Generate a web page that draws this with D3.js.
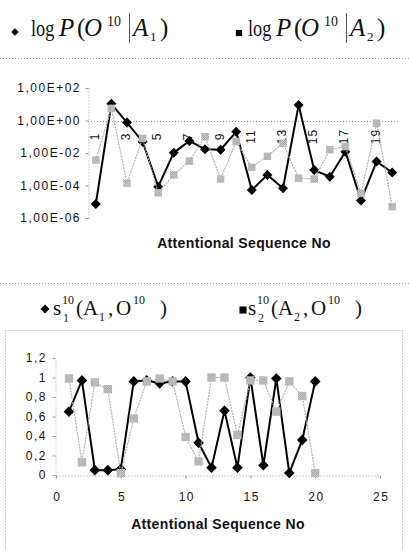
<!DOCTYPE html>
<html>
<head>
<meta charset="utf-8">
<script src="https://cdn.jsdelivr.net/npm/d3@7"></script>
<style>
  html, body { margin: 0; padding: 0; background: #fff; }
  svg { display: block; }
  .tick text { font-family: "Liberation Sans", Arial, sans-serif; font-size: 12px; letter-spacing: 1.5px; fill: #111; }
  .ttl { font-family: "Liberation Sans", Arial, sans-serif; font-size: 14px; font-weight: bold; letter-spacing: 0.35px; fill: #111; }
  .lg { font-family: "Liberation Serif", "Times New Roman", serif; fill: #111; }
</style>
</head>
<body>
<svg id="chart" width="409" height="550"></svg>
<script>
// Sequence numbers shared by both panels
const seqNo = [1, 2, 3, 4, 5, 6, 7, 8, 9, 10, 11, 12, 13, 14, 15, 16, 17, 18, 19, 20];

// Upper panel: P(O^10 | A1) and P(O^10 | A2), log scale
const logPA1 = [7.2e-6, 10.7, 0.74, 0.05, 8.5e-5, 0.0105, 0.055, 0.017, 0.016, 0.2,
                5.2e-5, 4.5e-4, 6.8e-5, 8.9, 8.9e-4, 3.5e-4, 0.012, 1.2e-5, 3.0e-3, 6.3e-4];
const logPA2 = [3.7e-3, 5.6, 1.4e-4, 0.079, 3.6e-5, 4.5e-4, 3.2e-3, 0.1, 2.5e-4, 0.05,
                1.3e-3, 6.3e-3, 0.04, 2.8e-4, 2.5e-4, 0.016, 0.025, 3.3e-5, 0.68, 5.0e-6];
const topTicks = [1e2, 1e0, 1e-2, 1e-4, 1e-6];
const topTickLabels = ["1,00E+02", "1,00E+00", "1,00E-02", "1,00E-04", "1,00E-06"];
const topCatLabels = [1, 3, 5, 7, 9, 11, 13, 15, 17, 19];

// Lower panel: s1^10(A1,O^10) and s2^10(A2,O^10)
const sA1 = [0.65, 0.97, 0.05, 0.05, 0.06, 0.96, 0.97, 0.94, 0.96, 0.96,
             0.33, 0.075, 0.66, 0.075, 1.0, 0.1, 0.99, 0.02, 0.36, 0.96];
const sA2 = [0.99, 0.13, 0.95, 0.88, 0.02, 0.58, 0.96, 0.99, 0.96, 0.39,
             0.14, 1.0, 1.0, 0.41, 0.97, 0.97, 0.65, 0.96, 0.81, 0.02];
const botYTicks = [0, 0.2, 0.4, 0.6, 0.8, 1, 1.2];
const botXTicks = [0, 5, 10, 15, 20, 25];

const axisTitle = "Attentional Sequence No";

const svg = d3.select("#chart");

// Stippled grey fill for the A2 markers
const defs = svg.append("defs");
const pat = defs.append("pattern").attr("id", "stip").attr("width", 2).attr("height", 2)
  .attr("patternUnits", "userSpaceOnUse");
pat.append("rect").attr("width", 2).attr("height", 2).attr("fill", "#d6d6d6");
pat.append("rect").attr("width", 1).attr("height", 1).attr("fill", "#9a9a9a");
pat.append("rect").attr("x", 1).attr("y", 1).attr("width", 1).attr("height", 1).attr("fill", "#9a9a9a");

const dotted = sel => sel.attr("stroke", "#9a9a9a").attr("stroke-width", 1).attr("stroke-dasharray", "1 2").attr("fill", "none");

const diamond = d3.symbol().type(d3.symbolDiamond2);
const square = d3.symbol().type(d3.symbolSquare2);

// ---------------- Upper panel ----------------
svg.append("line").attr("x1", 0).attr("x2", 409).attr("y1", 58.5).attr("y2", 58.5).call(dotted);
svg.append("line").attr("x1", 0).attr("x2", 409).attr("y1", 283.5).attr("y2", 283.5).call(dotted);

const xTop = d3.scaleBand().domain(seqNo).range([88, 400]);
const cx = d => xTop(d) + xTop.bandwidth() / 2;
const yTop = d3.scaleLog().domain([1e-6, 1e2]).range([218, 88]);

const gTopY = svg.append("g").attr("transform", "translate(88.5,0)")
  .call(d3.axisLeft(yTop).tickValues(topTicks)
    .tickFormat((d, i) => topTickLabels[i]).tickSize(3).tickPadding(6).tickSizeOuter(0));
gTopY.select(".domain").call(dotted);
gTopY.selectAll(".tick line").attr("stroke", "#9a9a9a");
gTopY.selectAll(".tick text").attr("dx", "1.5px");

// Category axis crossing at 1,00E+00
svg.append("line").attr("x1", 88).attr("x2", 400)
  .attr("y1", Math.round(yTop(1)) + 0.5).attr("y2", Math.round(yTop(1)) + 0.5).call(dotted);

svg.append("g").selectAll("text").data(topCatLabels).join("text")
  .attr("transform", d => `translate(${cx(d) - 1},${yTop(1) + 16}) rotate(-90)`)
  .attr("text-anchor", "middle").attr("dominant-baseline", "central")
  .style("font-family", "Liberation Sans, Arial, sans-serif").style("font-size", "12px")
  .style("letter-spacing", "1px").attr("fill", "#111")
  .text(d => d);

const lineTop = arr => d3.line().x((d, i) => cx(seqNo[i])).y(d => yTop(d))(arr);

svg.append("path").attr("d", lineTop(logPA1)).attr("fill", "none").attr("stroke", "#000").attr("stroke-width", 2);
svg.append("g").selectAll("path").data(logPA1).join("path")
  .attr("transform", (d, i) => `translate(${cx(seqNo[i])},${yTop(d)})`)
  .attr("d", diamond.size(64)).attr("fill", "#000");

svg.append("path").attr("d", lineTop(logPA2)).attr("fill", "none").attr("stroke", "#b0b0b0").attr("stroke-width", 1.2).attr("stroke-dasharray", "2 1");
svg.append("g").selectAll("path").data(logPA2).join("path")
  .attr("transform", (d, i) => `translate(${cx(seqNo[i])},${yTop(d)})`)
  .attr("d", square.size(72)).attr("fill", "url(#stip)");

svg.append("text").attr("class", "ttl").attr("x", (88 + 400) / 2).attr("y", 248)
  .attr("text-anchor", "middle").text(axisTitle);

// Upper legend: log P(O^10 | A_k)
function topLegend(x0, sub) {
  const g = svg.append("g").attr("transform", `translate(${x0},0)`);
  const t = (x, y, s, size, italic) => g.append("text").attr("class", "lg").attr("x", x).attr("y", y)
    .style("font-size", size + "px").style("font-style", italic ? "italic" : "normal").text(s);
  // narrow "log" operator
  g.append("text").attr("class", "lg").attr("transform", "translate(0,36) scale(0.76,1)")
    .style("font-size", "24px").text("log");
  t(28, 36, "P", 25, true);
  t(46, 36, "(", 25, false);
  t(53, 36, "O", 25, true);
  t(76, 26, "10", 14, false);
  g.append("line").attr("x1", 98.5).attr("x2", 98.5).attr("y1", 13).attr("y2", 43)
    .attr("stroke", "#555").attr("stroke-width", 1);
  t(102, 36, "A", 25, true);
  t(119, 41, sub, 13, false);
  t(129, 36, ")", 25, false);
  return g;
}
topLegend(31, "1");
topLegend(248, "2");
svg.append("path").attr("transform", "translate(15,32)").attr("d", diamond.size(36)).attr("fill", "#000");
svg.append("path").attr("transform", "translate(239,33)").attr("d", square.size(49)).attr("fill", "#000");

// ---------------- Lower panel ----------------
svg.append("rect").attr("x", 5.5).attr("y", 330.5).attr("width", 397).attr("height", 230).call(dotted);

const xBot = d3.scaleLinear().domain([0, 25]).range([56, 380]);
const yBot = d3.scaleLinear().domain([0, 1.2]).range([475, 358]);
const fmtComma = d => String(d).replace(".", ",");

const gBotY = svg.append("g").attr("transform", "translate(55.5,0)")
  .call(d3.axisLeft(yBot).tickValues(botYTicks).tickFormat(fmtComma).tickSize(3).tickPadding(7).tickSizeOuter(0));
gBotY.select(".domain").call(dotted);
gBotY.selectAll(".tick line").attr("stroke", "#9a9a9a");
gBotY.selectAll(".tick text").attr("dx", "1.5px");

const gBotX = svg.append("g").attr("transform", "translate(0,475.5)")
  .call(d3.axisBottom(xBot).tickValues(botXTicks).tickFormat(d => d).tickSize(3).tickPadding(14).tickSizeOuter(0));
gBotX.select(".domain").call(dotted);
gBotX.selectAll(".tick line").attr("stroke", "#9a9a9a");
gBotX.selectAll(".tick text").attr("dx", "0.75px");

const lineBot = arr => d3.line().x((d, i) => xBot(seqNo[i])).y(d => yBot(d))(arr);

svg.append("path").attr("d", lineBot(sA1)).attr("fill", "none").attr("stroke", "#000").attr("stroke-width", 2);
svg.append("g").selectAll("path").data(sA1).join("path")
  .attr("transform", (d, i) => `translate(${xBot(seqNo[i])},${yBot(d)})`)
  .attr("d", diamond.size(72)).attr("fill", "#000");

svg.append("path").attr("d", lineBot(sA2)).attr("fill", "none").attr("stroke", "#b0b0b0").attr("stroke-width", 1.2).attr("stroke-dasharray", "2 1");
svg.append("g").selectAll("path").data(sA2).join("path")
  .attr("transform", (d, i) => `translate(${xBot(seqNo[i])},${yBot(d)})`)
  .attr("d", square.size(90)).attr("fill", "url(#stip)");

svg.append("text").attr("class", "ttl").attr("x", (56 + 380) / 2).attr("y", 529)
  .attr("text-anchor", "middle").text(axisTitle);

// Lower legend: s_k^10(A_k, O^10)
function botLegend(x0, sub) {
  const g = svg.append("g").attr("transform", `translate(${x0},0)`);
  const t = (x, y, s, size) => g.append("text").attr("class", "lg").attr("x", x).attr("y", y)
    .style("font-size", size + "px").text(s);
  t(0, 315, "s", 21);
  t(9, 304, "10", 12);
  t(10, 322, sub, 12);
  t(23, 315, "(", 21);
  t(30, 315, "A", 21);
  t(46, 321, sub, 12);
  t(55, 315, ",", 21);
  t(63, 315, "O", 21);
  t(80, 304, "10", 12);
  t(107, 315, ")", 21);
  return g;
}
botLegend(53, "1");
botLegend(248, "2");
svg.append("path").attr("transform", "translate(45,309)").attr("d", diamond.size(50)).attr("fill", "#000");
svg.append("path").attr("transform", "translate(243,310)").attr("d", square.size(64)).attr("fill", "#000");
</script>
</body>
</html>
